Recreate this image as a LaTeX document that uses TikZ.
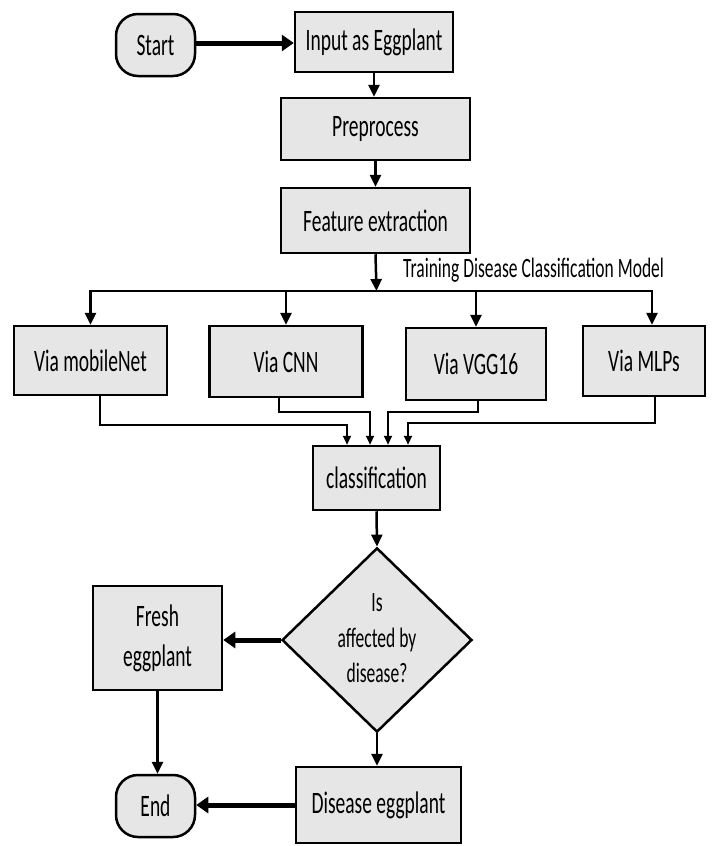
\documentclass[tikz,border=0pt]{standalone}
\usepackage{fontspec}
\setmainfont{Carlito}
\usepackage{graphicx}
\usetikzlibrary{shapes.geometric,arrows.meta}
\definecolor{boxgray}{RGB}{230,230,230}
\newcommand\vt[1]{\scalebox{1}[1.6]{#1}}
\newcommand\vtab[1]{\scalebox{1}[1.6]{\begin{tabular}{@{}c@{}}#1\end{tabular}}}
\tikzset{
  box/.style={draw, line width=2.5pt, fill=boxgray, rectangle, inner sep=0pt,
    font=\fontsize{19.5}{25}\selectfont},
  term/.style={box, rounded corners=22pt},
  arr/.style={line width=2.5pt, -{Triangle[length=12pt,width=11pt]}},
  thickarr/.style={line width=5pt, -{Triangle[length=12pt,width=16pt]}},
  merge/.style={line width=2.2pt, -{Triangle[length=9pt,width=8pt]}},
}
\begin{document}
\begin{tikzpicture}[x=1pt,y=-1pt]
\useasboundingbox (0,0) rectangle (713,846);
% nodes
\node[term, minimum width=79pt, minimum height=62pt] (start) at (155.5,45) {\vt{Start}};
\node[box, minimum width=158pt, minimum height=60pt] (input) at (374,42) {\vt{Input as Eggplant}};
\node[box, minimum width=189pt, minimum height=62pt] (pre) at (375.5,129) {\vt{Preprocess}};
\node[box, minimum width=189pt, minimum height=65pt] (fe) at (375.5,220.5) {\vt{Feature extraction}};
\node[anchor=west, inner sep=0pt, font=\fontsize{17.5}{22}\selectfont] (lbl) at (403,270) {\vt{Training Disease Classification Model}};
\node[box, minimum width=153pt, minimum height=69pt] (mob) at (90.5,360.5) {\vt{Via mobileNet}};
\node[box, minimum width=153pt, minimum height=71pt] (cnn) at (286,361.5) {\vt{Via CNN}};
\node[box, minimum width=140pt, minimum height=72pt] (vgg) at (476,364) {\vt{Via VGG16}};
\node[box, minimum width=122pt, minimum height=70pt] (mlp) at (644,361) {\vt{Via MLPs}};
\node[box, minimum width=127pt, minimum height=64pt] (cls) at (376.5,478) {\vt{classification}};
\node[box, diamond, minimum width=190pt, minimum height=182pt, font=\fontsize{17.5}{22}\selectfont] (dia) at (377,640) {\vtab{Is\\affected by\\disease?}};
\node[box, minimum width=129pt, minimum height=104pt] (fresh) at (157.5,638) {\vtab{Fresh\\eggplant}};
\node[term, minimum width=79pt, minimum height=62pt] (end) at (155.5,806) {\vt{End}};
\node[box, minimum width=165pt, minimum height=76pt] (dis) at (378.5,805) {\vt{Disease eggplant}};
% coordinates
\coordinate (j) at (376.5,291);
\coordinate (m1) at (347,425);
\coordinate (m2) at (370,412);
\coordinate (m3) at (388,412);
\coordinate (m4) at (408,423);
% connectors
\draw[thickarr] (start.east |- 0,43) -- (input.west |- 0,43);
\draw[arr] (input.south) -- (input.south |- pre.north);
\draw[arr] (pre.south) -- (pre.south |- fe.north);
\draw[arr] (fe.south) -- (j);
\draw[line width=2.5pt] (mob.north |- j) -- ([xshift=8pt]mlp.north |- j);
\draw[arr] (j) -| (mob.north);
\draw[arr] (j) -| (cnn.north);
\draw[arr] (j) -| (vgg.north);
\draw[arr] (j) -| ([xshift=8pt]mlp.north);
\draw[merge] ([xshift=9.5pt]mob.south) |- (m1) -- (m1 |- cls.north);
\draw[merge] ([xshift=-7pt]cnn.south) |- (m2) -- (m2 |- cls.north);
\draw[merge] ([xshift=2pt]vgg.south) |- (m3) -- (m3 |- cls.north);
\draw[merge] ([xshift=11pt]mlp.south) |- (m4) -- (m4 |- cls.north);
\draw[arr] (cls.south) -- (dia.north);
\draw[thickarr] (dia.west) -- (fresh.east |- dia.west);
\draw[arr] (fresh.south) -- (fresh.south |- end.north);
\draw[arr] (dia.south) -- (dia.south |- dis.north);
\draw[thickarr] (dis.west) -- (end.east |- dis.west);
\end{tikzpicture}
\end{document}
